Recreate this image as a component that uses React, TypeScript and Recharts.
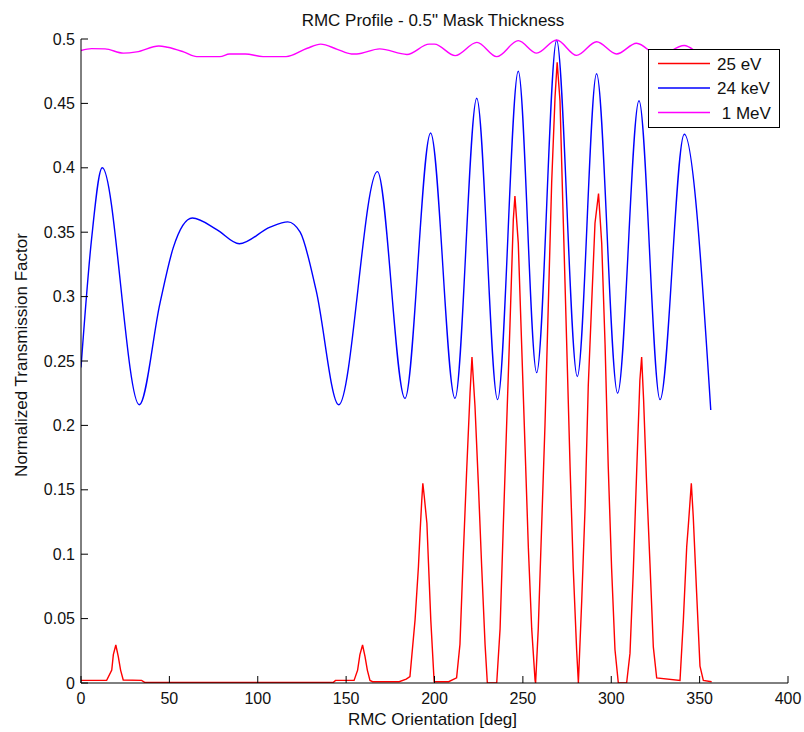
import React from "react"
import { LineChart, Line, XAxis, YAxis, Legend } from "recharts"

// RMC profile, 0.5" mask thickness: transmission vs orientation for three energies

const FONT = '"Liberation Sans", Arial, sans-serif'

const xTicks = [0, 50, 100, 150, 200, 250, 300, 350, 400]
const yTicks = [0, 0.05, 0.1, 0.15, 0.2, 0.25, 0.3, 0.35, 0.4, 0.45, 0.5]

const seriesNames = ["25 eV", "24 keV", " 1 MeV"]
const seriesColors = ["#ff0000", "#0000ff", "#ff00ff"]

// 25 eV
const evAngles = [
  0, 14.5, 17.4, 18.3, 19.7, 21.1, 22.4, 23.9, 34.3, 36, 142.8, 144, 154.5, 156.5, 157.8, 159.3,
  160.7, 162, 163.5, 165, 180, 184, 186.1, 189, 190.9, 191.8, 192.8, 193.4, 194.2, 195.7, 196.6,
  197.9, 199.8, 208, 212.5, 214.4, 216.3, 218.2, 220.1, 221.2, 222.9, 224.8, 226.7, 228.6, 229.9,
  235.2, 237.1, 238.9, 240.8, 242.7, 244.6, 245.5, 247.4, 249.3, 251.2, 253.1, 255, 256.9, 257.2,
  258.7, 260.6, 262.5, 264.4, 266.3, 268.2, 269.4, 271, 272.9, 274.8, 276.7, 278.5, 280.4, 281.4,
  283.3, 285.2, 287, 288.9, 290.8, 292.8, 294.6, 296.5, 298.3, 300.2, 302.1, 304, 308.7, 310.6,
  312.5, 314.4, 316.2, 317.2, 318.3, 320, 321.9, 323.8, 325.7, 338.9, 340.8, 342.7, 343.6, 345.3,
  346.4, 348.3, 350.2, 352.1, 356.8,
]
const evValues = [
  0.002, 0.002, 0.01, 0.022, 0.0295, 0.0205, 0.01, 0.0023, 0.002, 0.0005, 0.0005, 0.002, 0.002, 0.01,
  0.022, 0.0295, 0.0205, 0.01, 0.002, 0.001, 0.001, 0.003, 0.005, 0.049, 0.09, 0.116, 0.142, 0.155,
  0.145, 0.124, 0.093, 0.049, 0.001, 0.001, 0.004, 0.03, 0.1, 0.165, 0.225, 0.253, 0.215, 0.155,
  0.09, 0.03, 0, 0, 0.042, 0.121, 0.2, 0.278, 0.36, 0.378, 0.3415, 0.2627, 0.184, 0.105, 0.042, 0.002,
  0, 0.042, 0.121, 0.2, 0.294, 0.389, 0.455, 0.482, 0.452, 0.357, 0.263, 0.168, 0.089, 0.026, 0,
  0.064, 0.1365, 0.231, 0.294, 0.357, 0.38, 0.3415, 0.263, 0.168, 0.089, 0.026, 0, 0, 0.023,
  0.088, 0.165, 0.235, 0.253, 0.22, 0.155, 0.093, 0.028, 0.004, 0.002, 0.049, 0.106, 0.122, 0.155,
  0.129, 0.07, 0.013, 0.002, 0.001,
]

// 24 keV
const kevAngles = [
  0, 6, 12, 33, 44.7, 52.2, 63, 76.8, 89.6, 107, 117, 124, 133, 145.8, 167.7, 183.3, 197.8, 211.6,
  223.9, 235.7, 247.4, 257.8, 269.1, 280.8, 291.7, 303.6, 315.7, 327.6, 341.3, 356.3,
]
const kevValues = [
  0.245, 0.345, 0.4, 0.216, 0.295, 0.338, 0.361, 0.352, 0.341, 0.354, 0.358, 0.35, 0.305, 0.216,
  0.397, 0.221, 0.427, 0.221, 0.454, 0.22, 0.475, 0.241, 0.499, 0.238, 0.473, 0.225, 0.452, 0.22,
  0.426, 0.212,
]

// 1 MeV
const mevAngles = [
  0, 6, 13.6, 24, 31.5, 44, 49, 58, 65.5, 78.6, 84, 93, 103, 116, 128, 135.6, 145, 153, 156, 169,
  184.4, 197, 200, 211.7, 224, 235.2, 247.4, 257.8, 269.1, 280.4, 291.7, 303, 314.3, 327, 341.3,
  352, 356,
]
const mevValues = [
  0.491, 0.4925, 0.4923, 0.489, 0.49, 0.4946, 0.4936, 0.49, 0.4863, 0.4863, 0.4884, 0.4884, 0.4863,
  0.4863, 0.4928, 0.496, 0.492, 0.4884, 0.4884, 0.4923, 0.488, 0.496, 0.496, 0.4871, 0.4974, 0.4863,
  0.4987, 0.489, 0.4992, 0.4873, 0.4979, 0.4884, 0.4967, 0.487, 0.4949, 0.488, 0.489,
]

function toPoints(angles: number[], values: number[]) {
  return angles.map((angle, i) => ({ angle, value: values[i] }))
}

const evData = toPoints(evAngles, evValues)
const kevData = toPoints(kevAngles, kevValues)
const mevData = toPoints(mevAngles, mevValues)

function formatTick(v: number) {
  return String(+v.toFixed(2))
}

function XTick(props: any) {
  const { x, y, payload } = props
  return (
    <g>
      <line x1={x} y1={y} x2={x} y2={y - 7} stroke="#000" />
      <text x={x} y={y + 20.5} textAnchor="middle" fontSize={16} fontFamily={FONT} fill="#111">
        {formatTick(payload.value)}
      </text>
    </g>
  )
}

function YTick(props: any) {
  const { x, y, payload } = props
  return (
    <g>
      <line x1={x} y1={y} x2={x + 7} y2={y} stroke="#000" />
      <text
        x={x - 6}
        y={y}
        textAnchor="end"
        dominantBaseline="central"
        fontSize={16}
        fontFamily={FONT}
        fill="#111"
      >
        {formatTick(payload.value)}
      </text>
    </g>
  )
}

function XTitle(props: any) {
  const vb = props.viewBox
  return (
    <text x={vb.x + vb.width / 2 - 2} y={725} textAnchor="middle" fontSize={17} fontFamily={FONT} fill="#111">
      RMC Orientation [deg]
    </text>
  )
}

function YTitle() {
  return (
    <text
      transform="translate(27,355) rotate(-90)"
      textAnchor="middle"
      fontSize={17}
      fontFamily={FONT}
      fill="#111"
    >
      Normalized Transmission Factor
    </text>
  )
}

function LegendBox() {
  return (
    <svg width={133} height={80} style={{ display: "block" }}>
      <rect x={0.5} y={0.5} width={131} height={78} fill="#fff" stroke="#000" />
      {seriesNames.map((name, i) => {
        const cy = 14.5 + i * 24.5
        return (
          <g key={name}>
            <line x1={10} y1={cy} x2={62} y2={cy} stroke={seriesColors[i]} strokeWidth={1.4} />
            <text
              x={69}
              y={cy + 6}
              fontSize={17}
              fontFamily={FONT}
              fill="#111"
              style={{ whiteSpace: "pre" }}
            >
              {name}
            </text>
          </g>
        )
      })}
    </svg>
  )
}

export default function App() {
  return (
    <div style={{ position: "absolute", left: 0, top: 0, width: 804, height: 732, background: "#fff" }}>
      <LineChart width={804} height={732} margin={{ top: 39, right: 16, bottom: 0, left: 0 }}>
        <XAxis
          type="number"
          dataKey="angle"
          domain={[0, 400]}
          ticks={xTicks}
          interval={0}
          height={49}
          allowDataOverflow
          tick={<XTick />}
          tickLine={false}
          tickSize={0}
          tickMargin={0}
          axisLine={{ stroke: "#000" }}
          label={<XTitle />}
        />
        <YAxis
          type="number"
          dataKey="value"
          domain={[0, 0.5]}
          ticks={yTicks}
          interval={0}
          width={81}
          allowDataOverflow
          tick={<YTick />}
          tickLine={false}
          tickSize={0}
          tickMargin={0}
          axisLine={{ stroke: "#000" }}
          label={<YTitle />}
        />
        <Line
          data={evData}
          dataKey="value"
          name={seriesNames[0]}
          type="linear"
          stroke={seriesColors[0]}
          strokeWidth={1.4}
          dot={false}
          activeDot={false}
          isAnimationActive={false}
        />
        <Line
          data={kevData}
          dataKey="value"
          name={seriesNames[1]}
          type="monotone"
          stroke={seriesColors[1]}
          strokeWidth={1.4}
          dot={false}
          activeDot={false}
          isAnimationActive={false}
        />
        <Line
          data={mevData}
          dataKey="value"
          name={seriesNames[2]}
          type="monotone"
          stroke={seriesColors[2]}
          strokeWidth={1.4}
          dot={false}
          activeDot={false}
          isAnimationActive={false}
        />
        <Legend
          layout="vertical"
          align="center"
          verticalAlign="middle"
          wrapperStyle={{ left: 648, top: 49, width: 133, height: 80 }}
          content={<LegendBox />}
        />
      </LineChart>
      <svg width={804} height={36} style={{ position: "absolute", left: 0, top: 0, pointerEvents: "none" }}>
        <text x={433} y={26} textAnchor="middle" fontSize={17} fontFamily={FONT} fill="#111">
          RMC Profile - 0.5" Mask Thickness
        </text>
      </svg>
    </div>
  )
}
